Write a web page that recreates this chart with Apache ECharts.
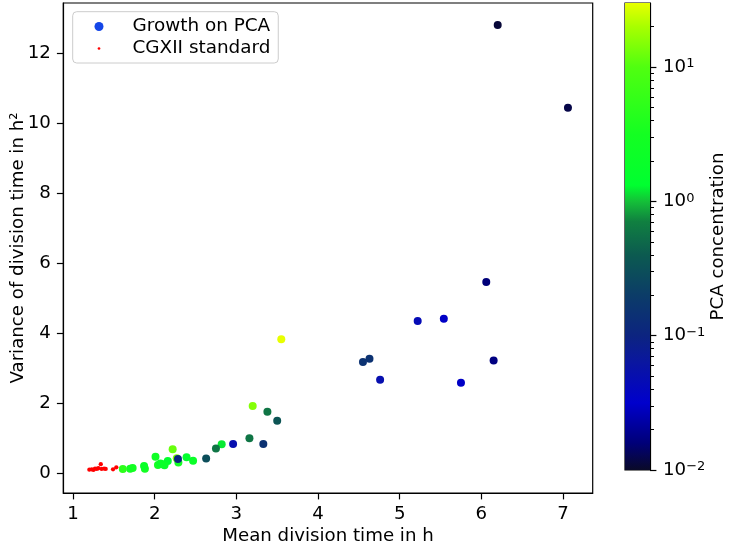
<!DOCTYPE html>
<html><head><meta charset="utf-8">
<script src="https://cdn.jsdelivr.net/npm/echarts@6/dist/echarts.min.js"></script>
<style>html,body{margin:0;padding:0;background:#fff}#c{width:729px;height:550px}</style>
</head><body><div id="c"></div>
<script>
// Growth on PCA: mean, variance, PCA concentration
const pcaMean = [6.20, 7.06, 6.06, 5.22, 5.54, 4.55, 4.63, 4.76, 6.15, 5.75,
  3.55, 3.20, 3.38, 3.50, 3.16, 3.33, 2.96, 2.82, 2.75, 2.63,
  2.47, 2.39, 2.29, 2.27, 2.285, 2.22, 2.16, 2.10, 2.04, 2.01,
  1.88, 1.87, 1.73, 1.70, 1.61, 2.07, 2.12];
const pcaVar = [12.81, 10.45, 5.47, 4.35, 4.42, 3.18, 3.27, 2.67, 3.22, 2.59,
  3.83, 1.92, 1.76, 1.50, 1.00, 0.84, 0.84, 0.83, 0.71, 0.42,
  0.36, 0.46, 0.31, 0.43, 0.41, 0.69, 0.35, 0.26, 0.24, 0.47,
  0.13, 0.21, 0.15, 0.13, 0.12, 0.28, 0.23];
const pcaConc = [0.011, 0.012, 0.016, 0.045, 0.03, 0.15, 0.15, 0.05, 0.017, 0.03,
  30, 15, 0.6, 0.35, 0.6, 0.15, 0.05, 1.2, 0.6, 0.3,
  2, 1.5, 3, 15, 0.1, 12, 1.5, 2, 3, 2.5,
  3, 2, 3, 3, 5, 2, 2];
// CGXII standard
const cgMean = [1.20, 1.23, 1.25, 1.27, 1.29, 1.31, 1.34, 1.35, 1.38, 1.40, 1.49, 1.53];
const cgVar  = [0.105, 0.115, 0.095, 0.135, 0.125, 0.145, 0.26, 0.125, 0.135, 0.125, 0.115, 0.17];

const xTicks = [1, 2, 3, 4, 5, 6, 7];
const yTicks = [0, 2, 4, 6, 8, 10, 12];
const cbMajor = [0.01, 0.1, 1, 10];
const cbMinor = [0.02,0.03,0.04,0.05,0.06,0.07,0.08,0.09,0.2,0.3,0.4,0.5,0.6,0.7,0.8,0.9,2,3,4,5,6,7,8,9,20];
const cbMin = 0.01, cbMax = 30;

// colormap stops: [log10(conc), colour]
const cmapStops = [
  [-2.0, '#0a0a28'], [-1.8, '#000078'], [-1.5, '#0000cc'], [-1.2, '#0a16a0'],
  [-1.0, '#0c2480'], [-0.7, '#0c3c68'], [-0.4, '#0c5a50'], [-0.15, '#108040'],
  [0.0, '#14c038'], [0.12, '#00ff30'], [0.5, '#14ff22'], [1.0, '#50ff10'],
  [1.3, '#a8ff00'], [1.477, '#e8ff00']
];
function hex2rgb(h){return [parseInt(h.slice(1,3),16),parseInt(h.slice(3,5),16),parseInt(h.slice(5,7),16)];}
function colorAt(v){
  const s = cmapStops;
  if (v <= s[0][0]) return s[0][1];
  if (v >= s[s.length-1][0]) return s[s.length-1][1];
  for (let i=0;i<s.length-1;i++){
    if (v>=s[i][0] && v<=s[i+1][0]){
      const t=(v-s[i][0])/(s[i+1][0]-s[i][0]);
      const a=hex2rgb(s[i][1]), b=hex2rgb(s[i+1][1]);
      return 'rgb('+a.map((c,k)=>Math.round(c+(b[k]-c)*t)).join(',')+')';
    }
  }
}
const lmin = Math.log10(cbMin), lmax = Math.log10(cbMax);
const gradStops = cmapStops.map(s => ({offset:(s[0]-lmin)/(lmax-lmin), color:s[1]}));

const F = 'DejaVu Sans';
const FS = 18.2;
const chart = echarts.init(document.getElementById('c'), null, {renderer:'canvas'});
chart.setOption({
  animation:false,
  backgroundColor:'#fff',
  textStyle:{fontFamily:F},
  grid:[
    {left:63.3, right:136.3, top:3, bottom:57, containLabel:false, outerBoundsMode:'none',
     show:true, borderColor:'#000', borderWidth:1.2, backgroundColor:'transparent'},
    {left:625, width:25, top:3, height:467, containLabel:false, outerBoundsMode:'none',
     show:true, borderColor:'#000', borderWidth:1.2, backgroundColor:'transparent'}
  ],
  legend:{
    left:72.7, top:11.7, orient:'vertical',
    backgroundColor:'#fff', borderColor:'#cccccc', borderWidth:1, borderRadius:4,
    padding:[5.8,7.8,5.5,21.8], itemGap:4, itemWidth:9, itemHeight:9,
    formatter:n=>'{sp| }'+n,
    textStyle:{fontFamily:F, fontSize:18.4, color:'#000', rich:{sp:{width:24, fontSize:18.4}}},
    data:[
      {name:'Growth on PCA', icon:'circle', itemStyle:{color:'#1446e8'}},
      {name:'CGXII standard', icon:'path://M0,0 M10,10 M5,3.5 A1.5,1.5 0 1 1 5,6.5 A1.5,1.5 0 1 1 5,3.5 Z', itemStyle:{color:'#ff0000'}}
    ]
  },
  xAxis:[
    {type:'value', gridIndex:0, min:0.881, max:7.363,
     name:'Mean division time in h', nameLocation:'middle', nameGap:34, nameMoveOverlap:false,
     nameTextStyle:{fontFamily:F, fontSize:FS, color:'#000'},
     axisLine:{onZero:false, lineStyle:{color:'#000', width:1.2}},
     axisTick:{customValues:xTicks, length:6.4, lineStyle:{color:'#000', width:1.2}},
     axisLabel:{customValues:xTicks, fontFamily:F, fontSize:FS, color:'#000', margin:12},
     splitLine:{show:false}},
    {type:'value', gridIndex:1, min:0, max:1, show:false}
  ],
  yAxis:[
    {type:'value', gridIndex:0, min:-0.563, max:13.44,
     name:'Variance of division time in h²', nameLocation:'middle', nameGap:36, nameRotate:90, nameMoveOverlap:false,
     nameTextStyle:{fontFamily:F, fontSize:FS, color:'#000'},
     axisLine:{onZero:false, lineStyle:{color:'#000', width:1.2}},
     axisTick:{customValues:yTicks, length:6.4, lineStyle:{color:'#000', width:1.2}},
     axisLabel:{customValues:yTicks, fontFamily:F, fontSize:FS, color:'#000', margin:12.5},
     splitLine:{show:false}},
    {type:'value', gridIndex:1, min:lmin, max:lmax, position:'right',
     name:'PCA concentration', nameLocation:'middle', nameGap:59, nameRotate:90, nameMoveOverlap:false,
     nameTextStyle:{fontFamily:F, fontSize:FS, color:'#000'},
     axisLine:{show:true, onZero:false, lineStyle:{color:'#000', width:1.2}},
     axisTick:{customValues:cbMajor.map(Math.log10), length:6.4, lineStyle:{color:'#000', width:1.2}},
     axisLabel:{customValues:cbMajor.map(Math.log10), margin:13, color:'#000',
       formatter:v=>{const e=Math.round(v); return '{b|10}{s|'+(e<0?'\u2212'+(-e):e)+'}';},
       rich:{b:{fontFamily:F, fontSize:FS, color:'#000'}, s:{fontFamily:F, fontSize:13, color:'#000', verticalAlign:'top', padding:[0,0,6,0]}}},
     splitLine:{show:false}},
    {type:'value', gridIndex:1, min:lmin, max:lmax, position:'right',
     axisLine:{show:false, onZero:false},
     axisTick:{customValues:cbMinor.map(Math.log10), length:4, lineStyle:{color:'#000', width:1}},
     axisLabel:{show:false}, splitLine:{show:false}}
  ],
  series:[
    {name:'Growth on PCA', type:'scatter', xAxisIndex:0, yAxisIndex:0, symbolSize:8,
     data:pcaMean.map((x,i)=>[x, pcaVar[i], pcaConc[i]]),
     itemStyle:{opacity:1, color:p=>colorAt(Math.log10(p.data[2]))}, z:3},
    {name:'CGXII standard', type:'scatter', xAxisIndex:0, yAxisIndex:0, symbolSize:4.3,
     data:cgMean.map((x,i)=>[x, cgVar[i]]), itemStyle:{color:'#ff0000', opacity:1}, z:4},
    {type:'custom', xAxisIndex:1, yAxisIndex:1, data:[[0]], silent:true, z:1,
     renderItem:(params, api)=>{
       const cs = params.coordSys;
       return {type:'rect', shape:{x:cs.x, y:cs.y, width:cs.width, height:cs.height},
         style:{fill:new echarts.graphic.LinearGradient(0,1,0,0,gradStops)}};
     }}
  ]
});
</script></body></html>
